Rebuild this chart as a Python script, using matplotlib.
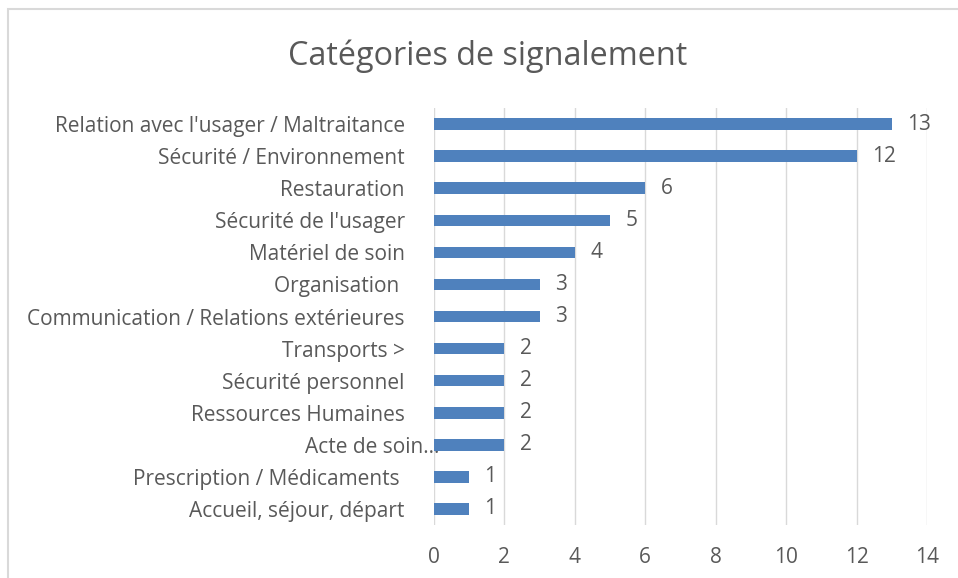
import matplotlib.pyplot as plt
from matplotlib.patches import Rectangle
from matplotlib.transforms import ScaledTranslation

# Data (top to bottom as in the chart)
categories = [
    "Relation avec l'usager / Maltraitance",
    "Sécurité / Environnement",
    "Restauration",
    "Sécurité de l'usager",
    "Matériel de soin",
    "Organisation ",
    "Communication / Relations extérieures",
    "Transports >",
    "Sécurité personnel",
    "Ressources Humaines",
    "Acte de soin…",
    "Prescription / Médicaments ",
    "Accueil, séjour, départ",
]
counts = [13, 12, 6, 5, 4, 3, 3, 2, 2, 2, 2, 1, 1]
x_ticks = [0, 2, 4, 6, 8, 10, 12, 14]

BAR_COLOR = '#4F81BD'
TEXT_COLOR = '#595959'
GRID_COLOR = '#D9D9D9'

plt.rcParams['font.family'] = ['Open Sans', 'DejaVu Sans']

fig = plt.figure(figsize=(9.58, 5.78), dpi=100)
ax = fig.add_axes([0.453, 0.0917, 0.5147, 0.7214])

ypos = list(range(len(categories)))
ax.barh(ypos, counts, height=0.36, color=BAR_COLOR, zorder=3)
ax.set_ylim(len(categories) - 0.5, -0.5)
ax.set_xlim(0, 14)
ax.set_xticks(x_ticks)
ax.set_yticks(ypos)
ax.set_yticklabels(categories)

for y, v in zip(ypos, counts):
    ax.annotate(str(v), (v, y), xytext=(11, 0), textcoords='offset points',
                va='center', ha='left', fontsize=15, color=TEXT_COLOR)

ax.grid(axis='x', color=GRID_COLOR, linewidth=1, zorder=0)
for s in ax.spines.values():
    s.set_visible(False)
ax.tick_params(axis='both', length=0, labelsize=15, labelcolor=TEXT_COLOR)
ax.tick_params(axis='y', pad=21)
ax.tick_params(axis='x', pad=15.5)

# Excel shows the truncated label slightly further right
for lab in ax.get_yticklabels():
    if lab.get_text().startswith('Acte'):
        lab.set_transform(lab.get_transform() + ScaledTranslation(25 / 72, 0, fig.dpi_scale_trans))

fig.text(0.509, 0.902, 'Catégories de signalement', ha='center', va='center',
         fontsize=23.3, color=TEXT_COLOR)

# chart area border (clipped at right and bottom in the screenshot)
fig.add_artist(Rectangle((8 / 958, -0.1), 1.2, 1.1 - 9 / 578,
                         transform=fig.transFigure, fill=False,
                         edgecolor=GRID_COLOR, linewidth=1.5))

fig.savefig('out.png', dpi=100)
